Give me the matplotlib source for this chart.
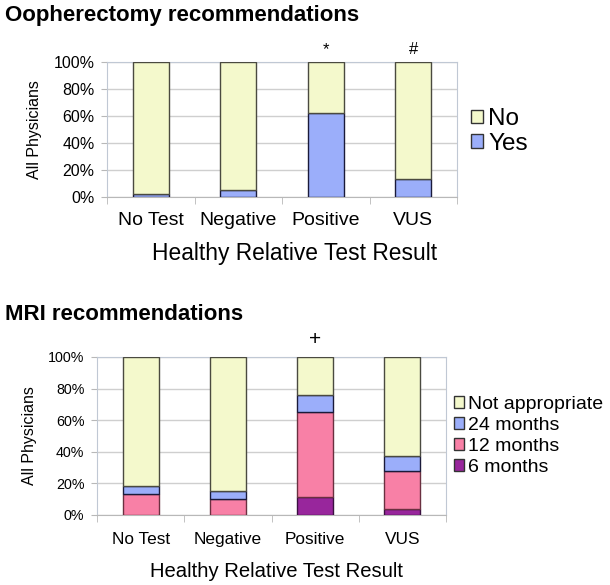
import matplotlib.pyplot as plt
import numpy as np
from matplotlib.patches import Patch

plt.rcParams['font.family'] = ['Liberation Sans', 'DejaVu Sans']

categories = ['No Test', 'Negative', 'Positive', 'VUS']

# oopherectomy: percent of physicians recommending
ooph_yes = [2.4, 5.1, 62.3, 13.2]
ooph_no = [100 - v for v in ooph_yes]
ooph_marks = ['', '', '*', '#']

# MRI interval recommendations (percent)
mri_6 = [0.0, 0.0, 11.2, 4.0]
mri_12 = [13.1, 10.1, 53.8, 24.1]
mri_24 = [5.3, 5.1, 11.0, 9.5]
mri_na = [100 - a - b - c for a, b, c in zip(mri_6, mri_12, mri_24)]
mri_marks = ['', '', '+', '']

YELLOW = '#F4F9CC'
BLUE = '#9BAEFA'
PINK = '#F880A6'
PURPLE = '#98269C'
EDGE = '#4a4a40'

W, H = 610, 585
fig = plt.figure(figsize=(W / 100, H / 100), dpi=100)


def px_axes(left, top, right, bottom):
    return fig.add_axes([left / W, 1 - bottom / H, (right - left) / W, (bottom - top) / H])


def style_axes(ax, scale=1.0, xlab_x=0.5, tick_pad=11, xlab_pad=9):
    ax.set_xlim(-0.5, 3.5)
    ax.set_ylim(0, 100)
    ax.set_yticks(np.arange(0, 101, 20))
    ax.set_yticklabels([f'{v}%' for v in range(0, 101, 20)], fontsize=11.5 * scale)
    ax.set_xticks(range(4))
    ax.set_xticklabels(categories, fontsize=14 * scale)
    ax.tick_params(axis='x', length=0, pad=tick_pad)
    ax.set_xticks(np.arange(-0.5, 3.6, 1), minor=True)
    ax.tick_params(axis='x', which='minor', length=5, color='#b8b8b8')
    ax.tick_params(axis='y', length=4, color='#b8b8b8', pad=5)
    ax.grid(axis='y', color='#cfcfcf', linewidth=1)
    ax.set_axisbelow(True)
    for s in ax.spines.values():
        s.set_color('#c0c8d4')
    ax.spines['bottom'].set_color('#b8b8b8')
    ax.set_ylabel('All Physicians', fontsize=11.5, labelpad=8)
    ax.set_xlabel('Healthy Relative Test Result', fontsize=16.4 * scale,
                  labelpad=xlab_pad, x=xlab_x)


x = np.arange(len(categories))
bw = 0.41

# --- top chart
ax1 = px_axes(107, 62, 457, 197)
ax1.bar(x, ooph_yes, bw, color=BLUE, edgecolor='#1a1a3a', linewidth=1, zorder=3)
ax1.bar(x, ooph_no, bw, bottom=ooph_yes, color=YELLOW, edgecolor=EDGE, linewidth=1, zorder=3)
style_axes(ax1, 1.0, 0.537)
for xi, m in zip(x, ooph_marks):
    if m:
        ax1.text(xi, 109, m, ha='center', va='center', fontsize=12, clip_on=False)
ax1.legend(handles=[Patch(facecolor=YELLOW, edgecolor='#333333', label='No'),
                    Patch(facecolor=BLUE, edgecolor='#333333', label='Yes')],
           loc='center left', bbox_to_anchor=(1.012, 0.485), frameon=False,
           fontsize=17.5, handlelength=0.5, handleheight=0.5, handletextpad=0.2,
           labelspacing=0.12, borderaxespad=0)
fig.text(5 / W, 1 - 16 / H, 'Oopherectomy recommendations', fontsize=16,
         fontweight='bold', ha='left', va='center')

# --- bottom chart
ax2 = px_axes(97, 357, 446, 515)
b = np.zeros(4)
for vals, col, ec in [(mri_6, PURPLE, '#3a1040'), (mri_12, PINK, '#6a3040'),
                      (mri_24, BLUE, '#1a1a3a'), (mri_na, YELLOW, EDGE)]:
    ax2.bar(x, vals, bw, bottom=b, color=col, edgecolor=ec, linewidth=1, zorder=3)
    b += np.array(vals)
style_axes(ax2, 0.89, 0.513, tick_pad=12.5, xlab_pad=10.5)
for xi, m in zip(x, mri_marks):
    if m:
        ax2.text(xi, 111, m, ha='center', va='center', fontsize=15, clip_on=False)
ax2.legend(handles=[Patch(facecolor=YELLOW, edgecolor='#333333', label='Not appropriate'),
                    Patch(facecolor=BLUE, edgecolor='#333333', label='24 months'),
                    Patch(facecolor=PINK, edgecolor='#333333', label='12 months'),
                    Patch(facecolor=PURPLE, edgecolor='#333333', label='6 months')],
           loc='center left', bbox_to_anchor=(1.0, 0.5), frameon=False,
           fontsize=14, handlelength=0.55, handleheight=0.55, handletextpad=0.2,
           labelspacing=0.2, borderaxespad=0)
fig.text(5 / W, 1 - 315 / H, 'MRI recommendations', fontsize=16,
         fontweight='bold', ha='left', va='center')

fig.savefig('out.png', dpi=100)
